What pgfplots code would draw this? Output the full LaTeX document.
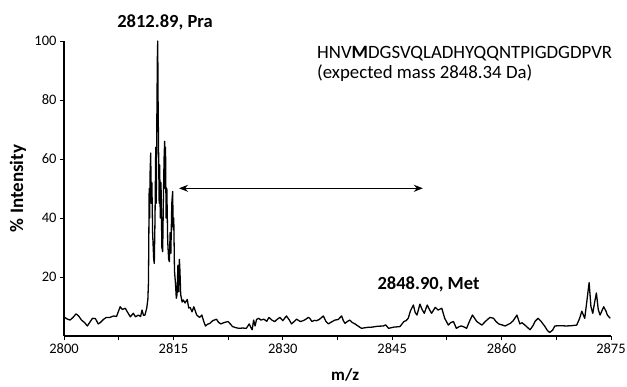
\documentclass[border=0pt]{standalone}
\usepackage{fontspec}
\setmainfont{Carlito}
\usepackage{pgfplots}
\pgfplotsset{compat=1.18}
\usetikzlibrary{arrows.meta}
\pgfplotstableread{
x y
2800.0 6.5
2800.4 5.8
2800.82 5.4
2801.2 6.2
2801.65 7.5
2802.0 6.8
2802.4 5.4
2802.8 4.6
2803.2 3.4
2803.5 4.5
2803.9 6.0
2804.3 5.9
2804.7 4.1
2805.0 4.6
2805.4 5.6
2805.8 6.3
2806.3 6.3
2806.8 6.8
2807.2 6.6
2807.7 9.9
2808.0 9.0
2808.4 9.4
2808.8 7.7
2809.1 6.5
2809.5 7.7
2809.8 6.5
2810.2 7.1
2810.5 6.6
2810.7 8.8
2810.9 7.0
2811.1 7.1
2811.35 9.5
2811.5 12.5
2811.58 18
2811.62 30
2811.68 50
2811.74 40
2811.80 55
2811.89 62
2811.96 45
2812.05 52
2812.15 35
2812.30 26
2812.38 24.6
2812.48 40
2812.58 64
2812.65 45
2812.72 70
2812.80 94
2812.85 100
2812.90 80
2812.98 60
2813.05 45
2813.12 58
2813.20 40
2813.30 52
2813.42 30
2813.53 28.6
2813.62 45
2813.72 60
2813.80 66
2813.86 50
2813.92 64
2814.00 40
2814.10 50
2814.22 32
2814.35 26
2814.45 25.2
2814.55 35
2814.65 28
2814.78 45
2814.90 49
2814.97 36
2815.05 40
2815.15 22
2815.28 18
2815.40 12.8
2815.50 14
2815.62 24
2815.72 15
2815.82 26
2815.90 22
2816.0 14
2816.2 11.5
2816.36 12.2
2816.6 11.2
2816.9 12.4
2817.1 9.5
2817.3 9.7
2817.55 8.2
2817.8 9.9
2818.2 7.1
2818.6 6.3
2818.9 7.1
2819.15 5.0
2819.4 3.4
2819.7 4.0
2820.0 4.3
2820.4 5.2
2820.9 5.7
2821.2 4.6
2821.5 4.1
2822.0 4.6
2822.5 4.9
2822.8 4.1
2823.1 3.2
2823.6 2.8
2824.0 2.6
2824.5 2.7
2825.0 2.6
2825.4 4.1
2825.6 3.0
2825.8 2.1
2826.0 5.4
2826.2 3.4
2826.4 5.6
2826.7 6.0
2827.0 5.4
2827.4 5.7
2827.8 5.0
2828.1 6.3
2828.5 5.4
2828.9 4.9
2829.2 5.6
2829.6 6.3
2830.0 5.2
2830.5 6.8
2830.9 5.4
2831.2 4.1
2831.6 5.0
2831.9 5.7
2832.4 4.9
2832.8 5.2
2833.1 5.6
2833.5 6.3
2833.7 6.0
2834.0 4.9
2834.3 5.3
2834.65 5.2
2835.0 5.6
2835.56 6.8
2835.9 5.0
2836.25 4.1
2836.7 4.8
2837.16 5.4
2837.6 5.6
2838.07 6.8
2838.3 5.2
2838.53 4.3
2838.9 5.0
2839.2 5.4
2839.5 4.6
2839.9 4.1
2840.3 3.4
2840.8 2.6
2841.5 2.9
2842.2 3.0
2843.0 3.3
2843.8 3.4
2844.1 3.8
2844.5 2.6
2845.2 3.0
2846.07 3.2
2846.6 4.9
2846.9 5.2
2847.2 6.0
2847.5 8.5
2847.9 10.5
2848.15 8.0
2848.4 7.1
2848.8 10.8
2849.1 9.0
2849.4 7.7
2849.8 10.5
2850.1 9.0
2850.4 7.7
2850.9 9.7
2851.3 8.8
2851.8 9.4
2852.2 6.0
2852.7 3.7
2853.0 4.5
2853.4 4.9
2853.8 2.6
2854.2 3.2
2854.5 3.4
2854.9 3.0
2855.2 2.6
2855.6 5.0
2856.0 7.1
2856.3 6.0
2856.6 4.9
2857.0 4.2
2857.3 3.7
2857.8 5.0
2858.4 6.3
2858.9 6.0
2859.2 5.0
2859.6 4.1
2860.0 3.8
2860.5 3.4
2860.8 3.8
2861.2 4.3
2861.6 5.2
2862.1 7.1
2862.5 4.1
2862.8 4.5
2863.2 3.7
2863.6 2.8
2863.9 2.1
2864.3 3.5
2864.6 5.0
2865.0 6.0
2865.4 5.0
2865.95 3.2
2866.3 1.8
2866.6 1.2
2867.0 2.0
2867.3 3.4
2868.0 3.5
2868.9 3.4
2869.6 3.5
2870.3 3.7
2870.7 6.0
2871.0 8.4
2871.4 6.0
2871.7 12
2872.0 18.1
2872.25 10
2872.5 7.7
2872.8 12
2873.0 14.6
2873.25 9
2873.5 7.1
2874.0 9.9
2874.3 8.5
2874.5 7.1
2874.9 6.0
}\spectrum
\begin{document}
\begin{tikzpicture}
\begin{axis}[
  at={(0,0)}, anchor=south west,
  scale only axis, width=547pt, height=295pt,
  xmin=2800, xmax=2875, ymin=0, ymax=100,
  axis lines*=left,
  axis line style={line width=1.3pt, -},
  xtick={2800,2815,2830,2845,2860,2875},
  minor xtick={2807.5,2822.5,2837.5,2852.5,2867.5},
  ytick={20,40,60,80,100},
  tick align=outside,
  major tick length=4pt, minor tick length=4pt,
  every tick/.style={black, line width=0.9pt},
  /pgf/number format/assume math mode=true,
  /pgf/number format/1000 sep={},
  tick label style={font=\fontsize{14.5}{16}\selectfont},
  xlabel={\textbf{m/z}},
  ylabel={\textbf{\% Intensity}},
  xlabel style={font=\fontsize{17}{19}\selectfont, at={(axis description cs:0.514,-0.132)}, anchor=center},
  ylabel style={font=\fontsize{19}{21}\selectfont, at={(axis description cs:-0.084,0.5)}, anchor=center},
  clip=false,
]
\addplot[black, line width=1.3pt, line join=round, mark=none] table[x=x,y=y] {\spectrum};
\node[font=\fontsize{18.5}{20}\selectfont\bfseries, anchor=center] at (axis cs:2813.85,106.4) {2812.89, Pra};
\node[font=\fontsize{18.5}{20}\selectfont\bfseries, anchor=center] at (axis cs:2849.98,17.46) {2848.90, Met};
\node[font=\fontsize{18.8}{20}\selectfont, anchor=base west, inner sep=0pt] at (axis cs:2834.69,93.9) {HNV\textbf{M}DGSVQLADHYQQNTPIGDGDPVR};
\node[font=\fontsize{18.8}{20}\selectfont, anchor=base west, inner sep=0pt] at (axis cs:2834.69,87.3) {(expected mass 2848.34 Da)};
\draw[{Stealth[length=9pt,width=7pt]}-{Stealth[length=9pt,width=7pt]}, line width=1.3pt] (axis cs:2815.77,50.07) -- (axis cs:2849.2,50.07);
\end{axis}
\pgfresetboundingbox
\path[use as bounding box] (-64pt,-50pt) rectangle (563pt,336pt);
\end{tikzpicture}
\end{document}
